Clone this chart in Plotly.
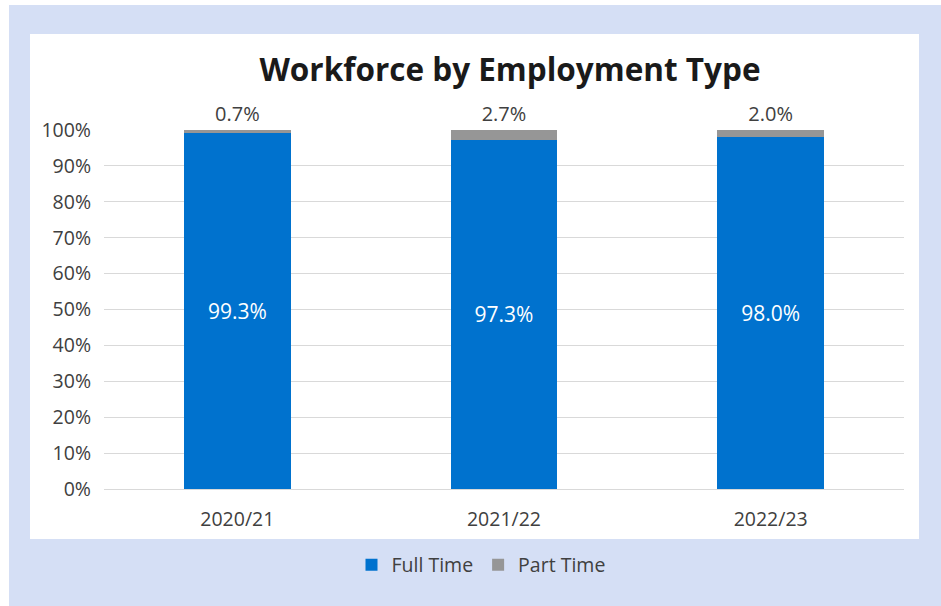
import plotly.graph_objects as go

years = ["2020/21", "2021/22", "2022/23"]
full_time = [99.3, 97.3, 98.0]
part_time = [0.7, 2.7, 2.0]
y_ticks = [0, 10, 20, 30, 40, 50, 60, 70, 80, 90, 100]
y_tick_labels = [f"{v}%" for v in y_ticks]

FONT = "Open Sans"
BLUE = "#0072CE"
GRAY = "#969696"
TXT = "#404040"

L, R, T, B = 104, 37, 130, 117
W, H = 941, 606
pw, ph = W - L - R, H - T - B

def px(x):
    return (x - L) / pw

def py(y):
    return (H - B - y) / ph

fig = go.Figure()
fig.add_bar(x=years, y=full_time, name="Full Time", marker_color=BLUE,
            marker_line_width=0,
            text=[f"{v:.1f}%" for v in full_time], textposition="inside",
            insidetextanchor="middle",
            textfont=dict(color="white", size=21, family=FONT))
fig.add_bar(x=years, y=part_time, name="Part Time", marker_color=GRAY,
            marker_line_width=0,
            text=[f"{v:.1f}%" for v in part_time], textposition="outside",
            textfont=dict(color=TXT, size=20, family=FONT), cliponaxis=False)

fig.update_layout(
    barmode="stack", bargap=0.6,
    width=W, height=H,
    margin=dict(l=L, r=R, t=T, b=B, pad=0),
    paper_bgcolor="white", plot_bgcolor="rgba(0,0,0,0)",
    font=dict(family=FONT, size=19, color=TXT),
    title=dict(text="<b>Workforce by Employment Type</b>", x=px(510), xref="paper",
               xanchor="center", y=1 - 70 / H, yanchor="middle",
               font=dict(size=31.5, color="#1a1a1a", family=FONT)),
    showlegend=True,
    legend=dict(orientation="h", x=px(481), xanchor="center", y=py(565), yanchor="middle",
                font=dict(size=19.5, color=TXT), bgcolor="rgba(0,0,0,0)",
                itemwidth=30, traceorder="normal"),
    xaxis=dict(showgrid=False, showline=True, linecolor="#D9D9D9", linewidth=1,
               ticks="", tickfont=dict(size=19.5, color=TXT), ticklabelstandoff=13),
    yaxis=dict(range=[0, 100], tickvals=y_ticks, ticktext=y_tick_labels,
               showgrid=True, gridcolor="#D9D9D9", gridwidth=1, zeroline=False,
               ticks="", tickfont=dict(size=19.5, color=TXT), ticklabelstandoff=12),
    shapes=[
        dict(type="rect", xref="paper", yref="paper", layer="below",
             x0=px(9), x1=px(941), y0=py(606), y1=py(5),
             fillcolor="#D5DFF5", line_width=0),
        dict(type="rect", xref="paper", yref="paper", layer="below",
             x0=px(30), x1=px(919), y0=py(539), y1=py(34),
             fillcolor="white", line_width=0),
    ],
)
fig.write_html("out.html")
